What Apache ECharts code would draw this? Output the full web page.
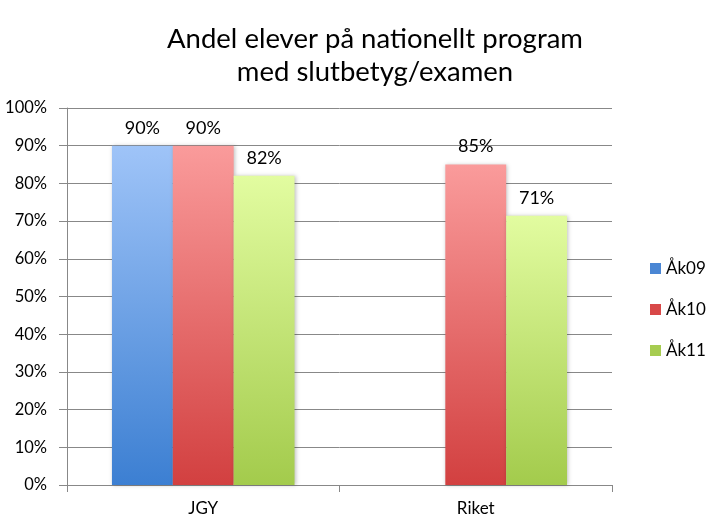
<!DOCTYPE html>
<html><head><meta charset="utf-8">
<script src="https://cdn.jsdelivr.net/npm/echarts@6/dist/echarts.min.js"></script>
<style>html,body{margin:0;padding:0;background:#fff}#c{width:722px;height:526px}</style>
</head><body><div id="c"></div>
<script>
const categories = ['JGY', 'Riket'];
const ak09 = [90, null];
const ak10 = [90, 85];
const ak11 = [82, 71.4];
const seriesNames = ['Åk09', 'Åk10', 'Åk11'];
const yTicks = [0, 10, 20, 30, 40, 50, 60, 70, 80, 90, 100];

const FONT = 'Lato';
function grad(top, bottom) {
  return new echarts.graphic.LinearGradient(0, 0, 0, 1, [
    { offset: 0, color: top }, { offset: 1, color: bottom }
  ]);
}
const colors = [
  ['#9fc4f8', '#3c7fd2', '#4a86d4'],
  ['#fa9b9b', '#d24040', '#d84848'],
  ['#e2fca0', '#a3cb4c', '#a6cc50']
];
const data = [ak09, ak10, ak11];
const chart = echarts.init(document.getElementById('c'), null, { renderer: 'canvas' });
chart.setOption({
  animation: false,
  title: {
    text: 'Andel elever på nationellt program\nmed slutbetyg/examen',
    left: 370, top: 18, textAlign: 'center',
    textStyle: { fontFamily: FONT, fontSize: 27.5, fontWeight: 'normal', color: '#000', lineHeight: 33 }
  },
  legend: {
    orient: 'vertical', left: 645, top: 255, itemGap: 24,
    itemWidth: 11, itemHeight: 11, icon: 'rect',
    textStyle: { fontFamily: FONT, fontSize: 17, color: '#000' },
    data: seriesNames.map((n, i) => ({ name: n, itemStyle: { color: colors[i][2] } }))
  },
  grid: { left: 67, right: 110, top: 108, bottom: 41, containLabel: false },
  xAxis: {
    type: 'category', data: categories,
    axisLine: { lineStyle: { color: '#888', width: 1 } },
    axisTick: { show: true, length: 7, lineStyle: { color: '#888' } },
    axisLabel: { fontFamily: FONT, fontSize: 17, color: '#000', margin: 15 }
  },
  yAxis: {
    type: 'value', min: 0, max: 100, interval: 10,
    axisLine: { show: true, lineStyle: { color: '#888', width: 1 } },
    axisTick: { show: true, inside: false, length: 8, lineStyle: { color: '#888' } },
    splitLine: { show: true, lineStyle: { color: '#888', width: 1 } },
    axisLabel: { fontFamily: FONT, fontSize: 16.5, color: '#000', margin: 20,
      formatter: v => yTicks.includes(v) ? v + '%' : '' }
  },
  series: seriesNames.map((n, i) => ({
    name: n, type: 'bar', data: data[i],
    barGap: '0%', barCategoryGap: '33%',
    itemStyle: { color: grad(colors[i][0], colors[i][1]), shadowColor: 'rgba(0,0,0,0.25)', shadowBlur: 4, shadowOffsetX: 1 },
    label: { show: true, position: 'top', distance: 9, fontFamily: FONT, fontSize: 18, color: '#000',
      formatter: p => Math.round(p.value) + '%' }
  }))
});
</script></body></html>
